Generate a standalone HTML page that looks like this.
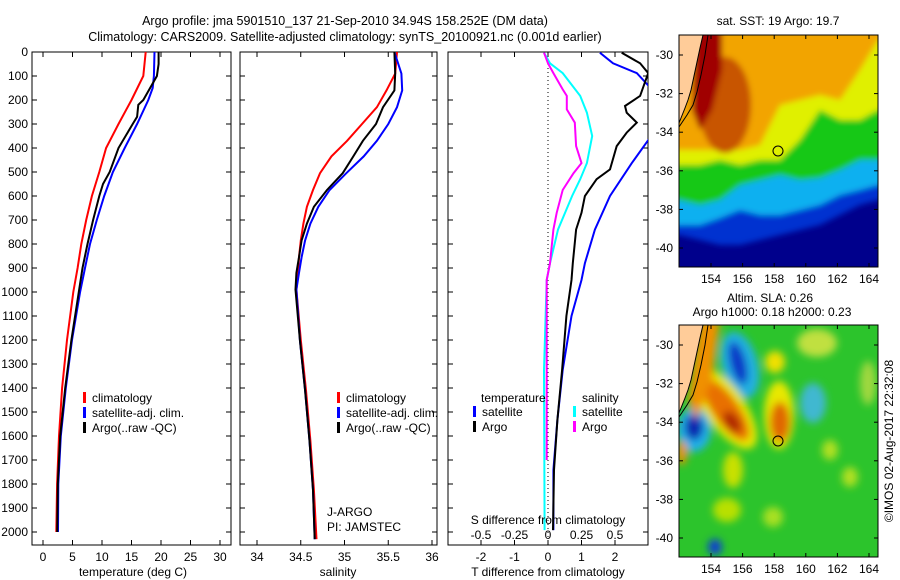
<!DOCTYPE html>
<html><head><meta charset="utf-8">
<style>
html,body{margin:0;padding:0;background:#fff;}
svg{display:block;font-family:"Liberation Sans",sans-serif;}
</style></head>
<body>
<svg id="fig" width="900" height="580" viewBox="0 0 900 580">
<defs>
<clipPath id="c1"><rect x="32" y="52" width="199" height="493"/></clipPath>
<clipPath id="c2"><rect x="240" y="52" width="197" height="493"/></clipPath>
<clipPath id="c3"><rect x="448" y="52" width="200" height="493"/></clipPath>
<clipPath id="cm1"><rect x="679" y="35" width="199" height="232"/></clipPath>
<clipPath id="cm2"><rect x="679" y="325" width="199" height="232"/></clipPath>
<filter id="bl" x="-10%" y="-10%" width="120%" height="120%"><feGaussianBlur stdDeviation="3"/></filter>
<filter id="bl2" x="-30%" y="-30%" width="160%" height="160%"><feGaussianBlur stdDeviation="4"/></filter>
</defs>
<text x="345" y="25" font-size="12.5" text-anchor="middle">Argo profile: jma 5901510_137 21-Sep-2010 34.94S 158.252E (DM data)</text>
<text x="345" y="41" font-size="12.5" text-anchor="middle">Climatology: CARS2009. Satellite-adjusted climatology: synTS_20100921.nc (0.001d earlier)</text>

<g id="p1"></g>
<g id="p2"></g>
<g id="p3"></g>

<!-- SST map -->
<g>
<text x="778" y="25" font-size="12" text-anchor="middle">sat. SST: 19 Argo: 19.7</text>
<g clip-path="url(#cm1)">
<rect x="679" y="35" width="199" height="232" fill="#00008c"/>
<g filter="url(#bl)">
<polygon fill="#0030d0" points="670,30 890,30 890,200 878,200 860,205 840,215 820,225 800,230 780,235 760,240 740,245 720,245 700,240 679,235 670,235"/>
<polygon fill="#10b0f0" points="670,30 890,30 890,185 878,185 860,190 840,195 820,205 800,210 780,215 760,215 740,210 720,218 700,225 679,225 670,225"/>
<polygon fill="#18c818" points="670,30 890,30 890,160 878,160 860,160 840,170 820,178 800,180 780,175 760,180 740,185 720,200 700,205 679,200 670,200"/>
<polygon fill="#e0f000" points="670,30 890,30 890,110 878,110 860,120 840,120 820,110 800,140 780,160 760,160 740,165 720,160 700,165 679,165 670,165"/>
<polygon fill="#f2a400" points="670,30 890,30 890,40 878,40 860,70 840,100 820,95 800,100 780,105 760,145 740,150 720,150 700,150 679,150 670,150"/>
<ellipse cx="725" cy="105" rx="26" ry="48" fill="#c85400"/>
<polygon fill="#a00000" points="695,30 722,30 722,70 712,110 700,130 692,110"/>
</g>
<polygon fill="#ffcc99" points="679,35 703,35 700,48 697,62 694,76 691,90 688,100 685,108 681,118 679,123"/>
<polyline fill="none" stroke="#000" stroke-width="1" points="703,35 700,48 697,62 694,76 691,90 688,100 685,108 681,118 679,123"/>
<polyline fill="none" stroke="#000" stroke-width="1" points="708,35 705,55 701,75 697,92 693,105 687,115 679,127"/>
</g>
<rect x="679" y="35" width="199" height="232" fill="none" stroke="#000"/>
<circle cx="778" cy="151" r="5" fill="none" stroke="#000"/>
</g>

<!-- SLA map -->
<g>
<text x="770" y="302" font-size="12" text-anchor="middle">Altim. SLA: 0.26</text>
<text x="772" y="316" font-size="12" text-anchor="middle">Argo h1000: 0.18 h2000: 0.23</text>
<g clip-path="url(#cm2)">
<rect x="679" y="325" width="199" height="232" fill="#2cc42c"/>
<g filter="url(#bl2)">
<ellipse cx="740" cy="365" rx="18" ry="34" transform="rotate(-15 740 365)" fill="#20b0e0"/>
<ellipse cx="725" cy="408" rx="20" ry="48" transform="rotate(-35 725 408)" fill="#e8e800"/>
<ellipse cx="726" cy="410" rx="13" ry="36" transform="rotate(-35 726 410)" fill="#e87000"/>
<ellipse cx="732" cy="422" rx="7" ry="12" transform="rotate(-35 732 422)" fill="#b02800"/>
<ellipse cx="738" cy="363" rx="8" ry="22" transform="rotate(-15 738 363)" fill="#0838c8"/>
<ellipse cx="694" cy="430" rx="17" ry="22" fill="#20b0e8"/>
<ellipse cx="694" cy="427" rx="9" ry="13" fill="#0828b0"/>
<ellipse cx="779" cy="415" rx="15" ry="34" fill="#e8e800"/>
<ellipse cx="780" cy="422" rx="10" ry="20" fill="#e06800"/>
<ellipse cx="775" cy="362" rx="10" ry="11" fill="#f0e000"/>
<ellipse cx="813" cy="403" rx="13" ry="20" fill="#40b8d0"/>
<ellipse cx="817" cy="343" rx="20" ry="14" fill="#c0e040"/>
<ellipse cx="868" cy="383" rx="8" ry="22" fill="#a0d840"/>
<ellipse cx="733" cy="470" rx="10" ry="18" fill="#c8e000"/>
<ellipse cx="727" cy="510" rx="14" ry="12" fill="#b8e000"/>
<ellipse cx="773" cy="517" rx="10" ry="10" fill="#a8e020"/>
<ellipse cx="830" cy="450" rx="8" ry="10" fill="#b0e020"/>
<ellipse cx="850" cy="477" rx="8" ry="10" fill="#b0e020"/>
<ellipse cx="715" cy="547" rx="7" ry="8" fill="#1040d0"/>
<ellipse cx="682" cy="453" rx="5" ry="12" fill="#f09000"/>
<polygon fill="#f09000" points="700,320 720,320 712,380 696,420 688,400"/>
</g>
<polygon fill="#ffcc99" points="679,325 703,325 700,338 697,352 694,366 691,380 688,390 685,398 681,408 679,413"/>
<polyline fill="none" stroke="#000" stroke-width="1" points="703,325 700,338 697,352 694,366 691,380 688,390 685,398 681,408 679,413"/>
<polyline fill="none" stroke="#000" stroke-width="1" points="708,325 705,345 701,365 697,382 693,395 687,405 679,417"/>
</g>
<rect x="679" y="325" width="199" height="232" fill="none" stroke="#000"/>
<circle cx="778" cy="441" r="5" fill="none" stroke="#000"/>
</g>
<g id="maxes"></g>
<text x="0" y="0" font-size="12" text-anchor="middle" transform="translate(893,441) rotate(-90)">©IMOS 02-Aug-2017 22:32:08</text>
</svg>
<script>
// ---- data ----
const depthTicks=[0,100,200,300,400,500,600,700,800,900,1000,1100,1200,1300,1400,1500,1600,1700,1800,1900,2000];
const tempTicks=[0,5,10,15,20,25,30];
const salTicks=[34,34.5,35,35.5,36];
const salTickLabels=["34","34.5","35","35.5","36"];
const tdiffTicks=[-2,-1,0,1,2];
const sdiffTicks=[-0.5,-0.25,0,0.25,0.5];
const sdiffTickLabels=["-0.5","-0.25","0","0.25","0.5"];

const climTdepth=[0,100,200,300,400,500,600,700,800,900,1000,1200,1400,1600,1800,2000];
const climT=[17.4,17.0,15.0,12.8,10.7,9.54,8.28,7.33,6.49,5.86,5.13,4.07,3.23,2.71,2.39,2.25];
const satTdepth=[0,100,150,200,300,400,500,600,700,800,900,1000,1200,1400,1600,1800,2000];
const satT=[18.9,18.8,18.6,17.84,15.95,13.85,11.85,10.38,9.12,7.96,7.12,6.28,4.92,3.86,3.02,2.6,2.55];
const argoTdepth=[0,50,100,200,220,270,300,400,500,550,600,700,800,900,1000,1200,1400,1600,1800,2000];
const argoT=[19.6,19.6,19.3,17.0,16.16,15.95,15.2,12.8,11.3,10.17,9.54,8.49,7.54,6.7,6.07,4.81,3.76,2.92,2.5,2.4];

const salDepth=[0,90,160,230,300,370,435,505,575,645,715,785,855,920,990,1200,1410,1620,1825,2030];
const climS=[35.60,35.58,35.48,35.37,35.20,35.03,34.85,34.72,34.64,34.57,34.53,34.50,34.48,34.47,34.45,34.50,34.56,34.61,34.65,34.68];
const satS=[35.57,35.65,35.66,35.60,35.50,35.37,35.22,35.02,34.83,34.70,34.61,34.55,34.51,34.48,34.45,34.49,34.55,34.60,34.64,34.66];
const argoS=[35.57,35.58,35.57,35.44,35.36,35.21,35.10,34.98,34.80,34.65,34.57,34.51,34.48,34.45,34.44,34.49,34.55,34.60,34.64,34.66];

const satTdiffDepth=[3,47,88,156,346,463,600,740,880,950,1100,1325,1533,1742,1992];
const satTdiff=[1.55,1.94,2.65,3.1,3.1,2.5,1.85,1.4,1.1,1.0,0.7,0.44,0.28,0.16,0.16];
const argoTdiffDepth=[3,47,88,183,225,253,294,336,392,489,530,600,670,740,880,950,1100,1325,1533,1742,1992];
const argoTdiff=[2.2,2.75,2.99,2.75,2.3,2.35,2.65,2.35,2.05,1.85,1.45,1.1,1.0,0.84,0.74,0.7,0.55,0.42,0.28,0.18,0.15];
const satSdiffDepth=[3,47,88,183,253,350,463,530,600,740,880,950,1325,1992];
const satSdiff=[-0.03,0.015,0.11,0.24,0.29,0.33,0.29,0.24,0.18,0.075,0.015,-0.01,-0.03,-0.025];
const argoSdiffDepth=[3,47,88,156,183,239,294,392,463,505,575,670,740,880,950,1200,1700];
const argoSdiff=[-0.03,0,0.04,0.11,0.14,0.14,0.2,0.21,0.25,0.19,0.11,0.065,0.04,0.015,-0.01,-0.01,-0.01];

const lonTicks=[154,156,158,160,162,164];
const latTicks=[-30,-32,-34,-36,-38,-40];

// ---- scales ----
const NS="http://www.w3.org/2000/svg";
const yD=d=>52+d*0.24;
const xT=t=>43+t*5.9;
const xS=s=>257+(s-34)*87.5;
const xTd=t=>548+t*33.5;
const xSd=s=>548+s*134;
const xLon=l=>711+(l-154)*15.8;
const yLat=(l,off)=>55+off+(-30-l)*19.3;

function mk(tag,attrs,parent){const e=document.createElementNS(NS,tag);for(const k in attrs)e.setAttribute(k,attrs[k]);parent.appendChild(e);return e;}
function txt(parent,x,y,s,anchor,size){const e=mk('text',{x:x,y:y,'font-size':size||12,'text-anchor':anchor||'middle'},parent);e.textContent=s;return e;}

function frame(g,x0,x1,leftLabels){
  const r=mk('rect',{x:x0,y:52,width:x1-x0,height:493,fill:'none',stroke:'#000'},g);
  
  
  depthTicks.forEach(d=>{
    mk('line',{x1:x0,x2:x0+5,y1:yD(d),y2:yD(d),stroke:'#000'},g);
    mk('line',{x1:x1-5,x2:x1,y1:yD(d),y2:yD(d),stroke:'#000'},g);
    if(leftLabels){const t=txt(g,28,yD(d)+4,String(d),'end');
      
      }
  });
}
function line(g,xs,ds,xf,color,name,clip){
  const pts=xs.map((v,i)=>xf(v).toFixed(1)+','+yD(ds[i]).toFixed(1)).join(' ');
  const p=mk('polyline',{points:pts,fill:'none',stroke:color,'stroke-width':2,'clip-path':'url(#'+clip+')'},g);
  
  
}
function legend(g,x,y,items){
  items.forEach((it,i)=>{
    mk('rect',{x:x,y:y+i*15-10,width:3,height:11,fill:it[1]},g);
    const t=txt(g,x+9,y+i*15,it[0],'start');
    
    
  });
}

// panel 1
const p1=document.getElementById('p1');
frame(p1,32,231,true);
tempTicks.forEach(t=>{mk('line',{x1:xT(t),x2:xT(t),y1:52,y2:57,stroke:'#000'},p1);mk('line',{x1:xT(t),x2:xT(t),y1:540,y2:545,stroke:'#000'},p1);
  const l=txt(p1,xT(t),561,String(t));
  
  });
line(p1,climT,climTdepth,xT,'#ff0000','climatology-temperature-line','c1');
line(p1,satT,satTdepth,xT,'#0000ff','satellite-temperature-line','c1');
line(p1,argoT,argoTdepth,xT,'#000000','argo-temperature-line','c1');
legend(p1,83,402,[['climatology','#ff0000'],['satellite-adj. clim.','#0000ff'],['Argo(..raw -QC)','#000']]);
let at=txt(p1,133,576,'temperature (deg C)');



// panel 2
const p2=document.getElementById('p2');
frame(p2,240,437,false);
salTicks.forEach((s,i)=>{mk('line',{x1:xS(s),x2:xS(s),y1:52,y2:57,stroke:'#000'},p2);mk('line',{x1:xS(s),x2:xS(s),y1:540,y2:545,stroke:'#000'},p2);
  const l=txt(p2,xS(s),561,salTickLabels[i]);
  
  });
line(p2,climS,salDepth,xS,'#ff0000','climatology-salinity-line','c2');
line(p2,satS,salDepth,xS,'#0000ff','satellite-salinity-line','c2');
line(p2,argoS,salDepth,xS,'#000000','argo-salinity-line','c2');
legend(p2,337,402,[['climatology','#ff0000'],['satellite-adj. clim.','#0000ff'],['Argo(..raw -QC)','#000']]);
let j1=txt(p2,327,516,'J-ARGO','start');


let j2=txt(p2,327,531,'PI: JAMSTEC','start');


let st=txt(p2,338,576,'salinity');



// panel 3
const p3=document.getElementById('p3');
frame(p3,448,648,false);
tdiffTicks.forEach(t=>{mk('line',{x1:xTd(t),x2:xTd(t),y1:52,y2:57,stroke:'#000'},p3);mk('line',{x1:xTd(t),x2:xTd(t),y1:540,y2:545,stroke:'#000'},p3);
  const l=txt(p3,xTd(t),561,String(t));
  
  });
sdiffTicks.forEach((s,i)=>{const l=txt(p3,xSd(s),539,sdiffTickLabels[i]);
  
  });
mk('line',{x1:548,x2:548,y1:52,y2:545,stroke:'#000','stroke-dasharray':'1,3'},p3);
line(p3,satSdiff,satSdiffDepth,xSd,'#00ffff','satellite-salinity-diff-line','c3');
line(p3,argoSdiff,argoSdiffDepth,xSd,'#ff00ff','argo-salinity-diff-line','c3');
line(p3,satTdiff,satTdiffDepth,xTd,'#0000ff','satellite-temperature-diff-line','c3');
line(p3,argoTdiff,argoTdiffDepth,xTd,'#000000','argo-temperature-diff-line','c3');
let lt=txt(p3,481,402,'temperature','start');


let ls=txt(p3,582,402,'salinity','start');


legend(p3,473,416,[['satellite','#0000ff'],['Argo','#000']]);
legend(p3,573,416,[['satellite','#00ffff'],['Argo','#ff00ff']]);
let sdt=txt(p3,548,524,'S difference from climatology');


let tdt=txt(p3,548,576,'T difference from climatology');



// map axes
const ma=document.getElementById('maxes');
[0,290].forEach(off=>{
  lonTicks.forEach(l=>{const x=xLon(l);
    mk('line',{x1:x,x2:x,y1:35+off,y2:39+off,stroke:'#000'},ma);
    mk('line',{x1:x,x2:x,y1:263+off,y2:267+off,stroke:'#000'},ma);
    const t=txt(ma,x,283+off,String(l));
    
    });
  latTicks.forEach(l=>{const y=yLat(l,off);
    mk('line',{x1:679,x2:683,y1:y,y2:y,stroke:'#000'},ma);
    mk('line',{x1:874,x2:878,y1:y,y2:y,stroke:'#000'},ma);
    const t=txt(ma,673,y+4,String(l),'end');
    
    });
});
</script>
</body></html>
